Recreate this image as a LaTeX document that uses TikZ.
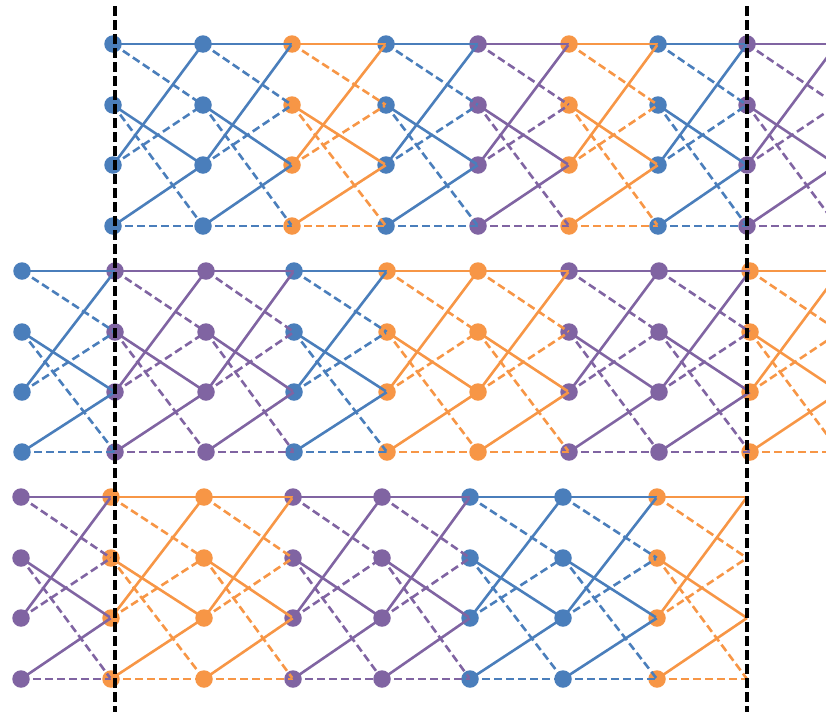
\documentclass[tikz,border=0pt]{standalone}
\usepackage{tikz}
\definecolor{cblue}{HTML}{4A7EBB}
\definecolor{corange}{HTML}{F79646}
\definecolor{cpurple}{HTML}{8064A2}
\tikzset{
  state/.style={circle,fill=#1,inner sep=0pt,minimum size=17.5pt},
  branch/.style={line width=2.6pt,draw=#1},
  zero/.style={branch=#1},
  one/.style={branch=#1,dash pattern=on 8pt off 4pt},
  cut/.style={line width=4.5pt,black,dash pattern=on 10pt off 4pt}
}
\def\bandA{113/cblue,203/cblue,292/corange,386/cblue,478/cpurple,569/corange,658/cblue,747/cpurple}
\def\bandB{22/cblue,115/cpurple,206/cpurple,294/cblue,387/corange,478/corange,569/cpurple,659/cpurple,750/corange}
\def\bandC{21/cpurple,111/corange,204/corange,293/cpurple,382/cpurple,470/cblue,563/cblue,657/corange}

\begin{document}
\begin{tikzpicture}[x=1pt,y=-1pt]
  \useasboundingbox (0,0) rectangle (826,712);
  \clip (0,0) rectangle (826,712);
  % top band
  \foreach \x/\c [count=\k] in \bandA
    \foreach \y [count=\s from 0] in {44,105,165,226}
      \node[state=\c] (a\k-\s) at (\x,\y) {};
  \foreach \y [count=\s from 0] in {44,105,165,226}
    \coordinate (a9-\s) at (837,\y);
  \foreach \x/\c [count=\k] in \bandA {
    \pgfmathtruncatemacro\n{\k+1}
    \foreach \s/\t/\u in {0/0/1,1/2/3,2/0/1,3/2/3} {
      \draw[zero=\c] (a\k-\s.center) -- (a\n-\t.center);
      \draw[one=\c] (a\k-\s.center) -- (a\n-\u.center);
    }
  }
  % middle band
  \foreach \x/\c [count=\k] in \bandB
    \foreach \y [count=\s from 0] in {271,332,392,452}
      \node[state=\c] (b\k-\s) at (\x,\y) {};
  \foreach \y [count=\s from 0] in {271,332,392,452}
    \coordinate (b10-\s) at (840,\y);
  \foreach \x/\c [count=\k] in \bandB {
    \pgfmathtruncatemacro\n{\k+1}
    \foreach \s/\t/\u in {0/0/1,1/2/3,2/0/1,3/2/3} {
      \draw[zero=\c] (b\k-\s.center) -- (b\n-\t.center);
      \draw[one=\c] (b\k-\s.center) -- (b\n-\u.center);
    }
  }
  % bottom band
  \foreach \x/\c [count=\k] in \bandC
    \foreach \y [count=\s from 0] in {497,558,618,679}
      \node[state=\c] (c\k-\s) at (\x,\y) {};
  \foreach \y [count=\s from 0] in {497,558,618,679}
    \coordinate (c9-\s) at (747,\y);
  \foreach \x/\c [count=\k] in \bandC {
    \pgfmathtruncatemacro\n{\k+1}
    \foreach \s/\t/\u in {0/0/1,1/2/3,2/0/1,3/2/3} {
      \draw[zero=\c] (c\k-\s.center) -- (c\n-\t.center);
      \draw[one=\c] (c\k-\s.center) -- (c\n-\u.center);
    }
  }
  % window limits
  \draw[cut] (115,6) -- (115,712);
  \draw[cut] (747,6) -- (747,712);
\end{tikzpicture}
\end{document}
